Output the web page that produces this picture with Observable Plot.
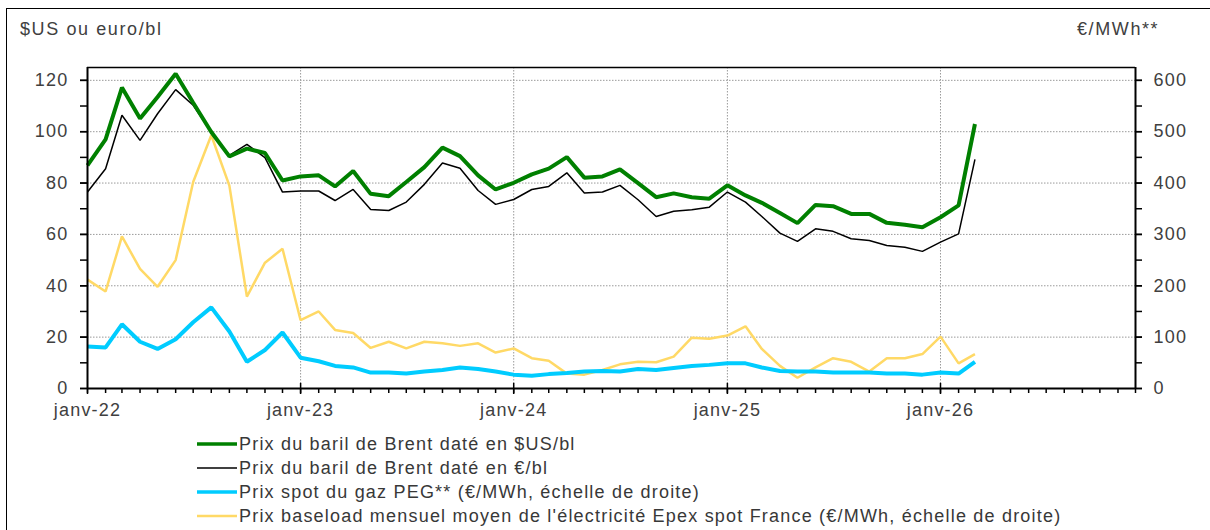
<!DOCTYPE html>
<html><head><meta charset="utf-8">
<script src="https://cdn.jsdelivr.net/npm/d3@7"></script>
<script src="https://cdn.jsdelivr.net/npm/@observablehq/plot@0.6"></script>
<style>
html,body{margin:0;padding:0;background:#fff;overflow:hidden;}
#wrap{position:relative;width:1210px;height:530px;font-family:"Liberation Sans",Arial,sans-serif;color:#404040;}
#border{position:absolute;left:6px;top:8px;width:1230px;height:560px;border:1px solid #000;box-sizing:border-box;}
#head{position:relative;height:40px;font-size:18px;line-height:18px;letter-spacing:1.6px;}
#head .l{position:absolute;left:20px;top:20px;}
#head .r{position:absolute;left:1077px;top:20px;}
#legend{position:absolute;left:197px;top:432px;font-size:18px;line-height:24px;letter-spacing:1.2px;color:#383838;}
#legend .row{display:flex;align-items:center;height:24px;}
#legend svg{margin-right:2px;}
</style></head>
<body><div id="wrap"><div id="border"></div>
<div id="head"><span class="l">$US ou euro/bl</span><span class="r">€/MWh**</span></div>
<div id="chart"></div>
<div id="legend"></div>
</div>
<script>
const months = ["2022-01","2022-02","2022-03","2022-04","2022-05","2022-06","2022-07","2022-08","2022-09","2022-10","2022-11","2022-12",
"2023-01","2023-02","2023-03","2023-04","2023-05","2023-06","2023-07","2023-08","2023-09","2023-10","2023-11","2023-12",
"2024-01","2024-02","2024-03","2024-04","2024-05","2024-06","2024-07","2024-08","2024-09","2024-10","2024-11","2024-12",
"2025-01","2025-02","2025-03","2025-04","2025-05","2025-06","2025-07","2025-08","2025-09","2025-10","2025-11","2025-12",
"2026-01","2026-02","2026-03"];
const brentUsd = [86.9,97.0,117.2,105.1,113.5,122.6,111.3,99.9,90.4,93.4,91.7,81.0,
82.6,83.0,78.7,84.7,75.8,74.9,80.4,86.2,93.8,90.5,83.0,77.5,
80.1,83.4,85.6,90.1,82.1,82.6,85.3,80.0,74.5,76.0,74.5,73.9,
79.1,75.2,72.3,68.3,64.4,71.5,71.0,68.0,68.0,64.5,63.8,62.8,
66.7,71.3,103.0];
const brentEur = [76.5,85.6,106.4,96.6,107.0,116.4,110.3,99.9,90.8,95.1,89.9,76.5,
76.9,76.9,73.2,77.5,69.7,69.3,72.6,79.5,87.8,85.8,77.1,71.7,
73.6,77.5,78.7,84.0,76.1,76.5,79.1,73.5,67.0,69.0,69.6,70.6,
76.5,72.6,67.0,60.5,57.3,62.2,61.2,58.3,57.6,55.7,55.0,53.4,
57.0,60.2,89.2];
const gasPeg = [82,80,125,91,77,96,129,158,111,52,75,109,
60,53,44,41,31,31,29,33,36,41,38,33,
27,25,28,30,33,34,33,38,36,40,44,46,
49,49,41,34,33,33,31,31,31,29,29,27,
31,29,52];
const elecEpex = [212,189,296,233,198,250,402,493,395,179,245,272,
133,150,114,108,79,91,78,91,88,83,88,70,
78,59,54,29,27,36,47,52,51,62,99,97,
103,121,77,44,21,41,59,52,33,59,59,67,
101,49,67];
const xTickMonths = ["2022-01","2023-01","2024-01","2025-01","2026-01"];
const xTickLabels = ["janv-22","janv-23","janv-24","janv-25","janv-26"];
const leftTicks = [0,20,40,60,80,100,120];
const rightTickLabels = [0,100,200,300,400,500,600];
const seriesNames = ["Prix du baril de Brent daté en $US/bl","Prix du baril de Brent daté en €/bl","Prix spot du gaz PEG** (€/MWh, échelle de droite)","Prix baseload mensuel moyen de l'électricité Epex spot France (€/MWh, échelle de droite)"];
const seriesColors = ["#008000","#000000","#00CCFF","#FFD966"];
const seriesWidths = [4,1.5,4,2.5];

const RATIO = 5; // right axis / left axis
const toDate = s => new Date(s + "-01T00:00:00Z");
const dates = months.map(toDate);
const mk = (arr, scale) => arr.map((v,i) => ({date: dates[i], v: v/scale}));
const dataSets = [mk(brentUsd,1), mk(brentEur,1), mk(gasPeg,RATIO), mk(elecEpex,RATIO)];
const x0 = toDate("2022-01"), x1 = toDate("2026-12");
const allMonths = d3.utcMonth.range(x0, d3.utcMonth.offset(x1,1));
const yearDates = xTickMonths.map(toDate);
const labelOf = new Map(yearDates.map((d,i)=>[+d, xTickLabels[i]]));
const minorLeft = d3.range(0,121,10);
const gridY = leftTicks.filter(v=>v>0);

const drawOrder = [3,2,1,0];
const chart = Plot.plot({
  width: 1210, height: 380,
  marginLeft: 87, marginRight: 75, marginTop: 27, marginBottom: 32,
  x: {type: "utc", domain: [x0, x1]},
  y: {domain: [0, 125]},
  style: {fontFamily: "'Liberation Sans', Arial, sans-serif", fontSize: "18px", letterSpacing: "1.2px", color: "#404040", background: "#fff", overflow: "visible"},
  marks: [
    Plot.ruleY(gridY, {stroke: "#9a9a9a", strokeWidth: 1, strokeDasharray: "1.5,1.5"}),
    Plot.ruleX(yearDates.slice(1), {stroke: "#9a9a9a", strokeWidth: 1, strokeDasharray: "1.5,1.5"}),
    ...drawOrder.map(k => Plot.line(dataSets[k], {x: "date", y: "v", stroke: seriesColors[k], strokeWidth: seriesWidths[k], strokeLinejoin: "miter", strokeLinecap: "butt"})),
    Plot.ruleY([125], {stroke: "#000", strokeWidth: 1.5}),
    Plot.ruleY([0], {stroke: "#000", strokeWidth: 2}),
    Plot.ruleX([x0], {stroke: "#000", strokeWidth: 2}),
    Plot.ruleX([x1], {stroke: "#000", strokeWidth: 2}),
    Plot.axisY(minorLeft, {anchor: "left", tickSize: 7, tickFormat: () => "", stroke: "#000", strokeWidth: 1.5, label: null}),
    Plot.axisY(leftTicks, {anchor: "left", tickSize: 7, tickPadding: 12, stroke: "#000", strokeWidth: 1.5, label: null, fill: "#404040"}),
    Plot.axisY(d3.range(0,121,10), {anchor: "right", tickSize: 6, tickFormat: () => "", stroke: "#000", strokeWidth: 1.5, label: null}),
    Plot.axisY(rightTickLabels.map(v=>v/RATIO), {anchor: "right", tickSize: 6, tickPadding: 12, tickFormat: (d,i) => String(rightTickLabels[i]), stroke: "#000", strokeWidth: 1.5, label: null, fill: "#404040"}),
    Plot.axisX(allMonths, {anchor: "bottom", tickSize: 5, tickFormat: () => "", stroke: "#000", strokeWidth: 1.5, label: null}),
    Plot.axisX(yearDates, {anchor: "bottom", tickSize: 6, tickPadding: 9, tickFormat: d => labelOf.get(+d), stroke: "#000", strokeWidth: 1.5, label: null, fill: "#404040"}),
    Plot.ruleX(yearDates.slice(1), {y1: 0, y2: 2, stroke: "#000", strokeWidth: 1.5})
  ]
});
document.getElementById("chart").appendChild(chart);

const leg = document.getElementById("legend");
seriesNames.forEach((name,i) => {
  const row = document.createElement("div"); row.className = "row";
  row.innerHTML = `<svg width="40" height="8"><line x1="0" x2="40" y1="4" y2="4" stroke="${seriesColors[i]}" stroke-width="${Math.min(seriesWidths[i],3.5)}"/></svg><span>${name}</span>`;
  leg.appendChild(row);
});
</script></body></html>
